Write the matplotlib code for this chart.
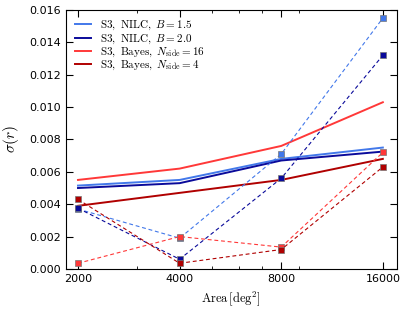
import matplotlib
matplotlib.use('Agg')
import matplotlib.pyplot as plt
from matplotlib.ticker import NullFormatter

plt.rcParams['mathtext.fontset'] = 'cm'

area = [2000, 4000, 8000, 16000]
area_labels = ['2000', '4000', '8000', '16000']

# solid lines
nilc15_solid = [0.00515, 0.0055, 0.0068, 0.0075]
nilc20_solid = [0.0050, 0.0053, 0.0067, 0.00725]
bayes16_solid = [0.0055, 0.0062, 0.0076, 0.0103]
bayes4_solid = [0.0039, 0.0047, 0.0055, 0.0068]

# dashed lines with square markers
nilc15_dash = [0.0037, 0.0019, 0.0071, 0.0155]
nilc20_dash = [0.00375, 0.0006, 0.0056, 0.0132]
bayes16_dash = [0.00035, 0.0020, 0.00135, 0.0072]
bayes4_dash = [0.0043, 0.00035, 0.0012, 0.0063]

labels = [r'$\mathrm{S3,\ NILC,}\ B=1.5$',
          r'$\mathrm{S3,\ NILC,}\ B=2.0$',
          r'$\mathrm{S3,\ Bayes,}\ N_{\mathrm{side}}=16$',
          r'$\mathrm{S3,\ Bayes,}\ N_{\mathrm{side}}=4$']
colors = ['#4278ea', '#0a0a9a', '#ff3838', '#b00000']

fig = plt.figure(figsize=(4.07, 3.12), dpi=100)
ax = fig.add_axes([0.162, 0.138, 0.813, 0.83])

solids = [nilc15_solid, nilc20_solid, bayes16_solid, bayes4_solid]
dashes = [nilc15_dash, nilc20_dash, bayes16_dash, bayes4_dash]

for s, c, lab in zip(solids, colors, labels):
    ax.plot(area, s, '-', color=c, lw=1.4, label=lab)
for d, c in zip(dashes, colors):
    ax.plot(area, d, '--', color=c, lw=0.8, dashes=(3.5, 2.5),
            marker='s', ms=4.5, mec='#777777', mew=0.5)

ax.set_xscale('log')
ax.set_xlim(1842, 17600)
ax.set_ylim(0, 0.016)
ax.set_xticks(area)
ax.set_xticklabels(area_labels)
ax.xaxis.set_minor_formatter(NullFormatter())
ax.set_yticks([0, 0.002, 0.004, 0.006, 0.008, 0.010, 0.012, 0.014, 0.016])
ax.set_yticklabels(['%.3f' % v for v in ax.get_yticks()])

ax.tick_params(which='both', direction='in', top=True, right=True, labelsize=8)
ax.tick_params(which='major', length=5, width=0.8)
ax.tick_params(which='minor', length=2.5, width=0.6)

ax.set_xlabel(r'$\mathrm{Area}\,[\mathrm{deg}^2]$', fontsize=9)
ax.set_ylabel(r'$\sigma(r)$', fontsize=11, labelpad=6)

ax.legend(loc='upper left', frameon=False, fontsize=8, handlelength=1.5,
          handletextpad=0.8, labelspacing=0.0, borderaxespad=0.4)

fig.savefig('out.png', dpi=100)
